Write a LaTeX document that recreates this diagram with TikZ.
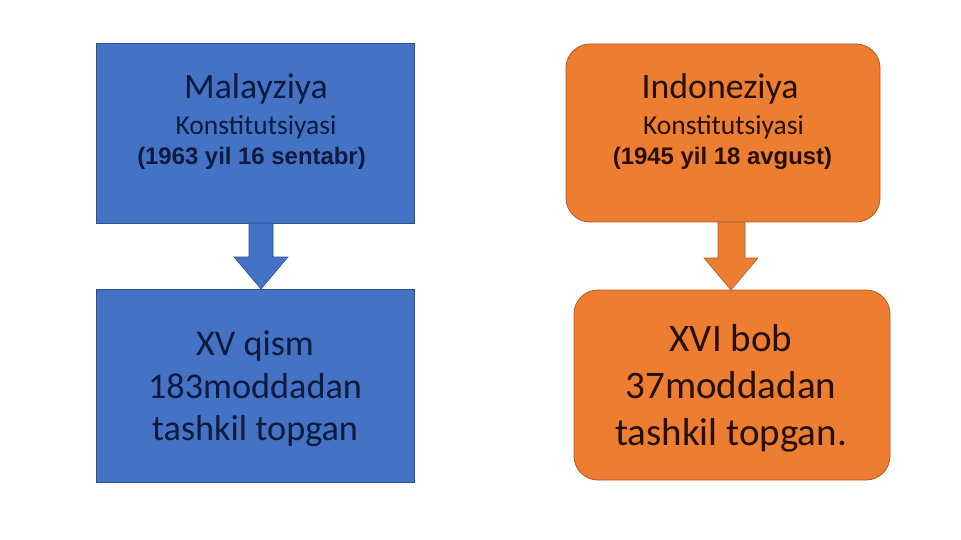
\documentclass[tikz,border=0pt]{standalone}
\usepackage{fontspec}
\setmainfont{Carlito}
\newfontfamily\arialb{Liberation Sans}
\usetikzlibrary{calc}
\definecolor{bfill}{HTML}{4472C4}
\definecolor{bline}{HTML}{2F528F}
\definecolor{ofill}{HTML}{ED7D31}
\definecolor{oline}{HTML}{AE5A21}
\definecolor{btext}{HTML}{0E1A3E}
\definecolor{otext}{HTML}{241006}
\tikzset{
  bbox/.style={draw=bline, fill=bfill, line width=0.8pt, inner sep=0pt},
  obox/.style={draw=oline, fill=ofill, line width=0.8pt, inner sep=0pt, rounded corners=24pt},
  barrow/.style={draw=bline, fill=bfill, line width=0.6pt},
  oarrow/.style={draw=oline, fill=ofill, line width=0.6pt},
  ttl/.style={font=\fontsize{35.8}{38}\selectfont},
  sub/.style={font=\fontsize{27.5}{30}\selectfont},
  dat/.style={font=\arialb\bfseries\fontsize{23.9}{26}\selectfont},
  bigb/.style={align=center, font=\fontsize{36.2}{42.5}\selectfont},
  bigo/.style={align=center, font=\fontsize{39}{47}\selectfont},
}
\begin{document}
\begin{tikzpicture}[x=1pt,y=-1pt]
\useasboundingbox (0,0) rectangle (961,540);
\fill[white] (0,0) rectangle (961,540);
% blue column
\draw[bbox] (96,43) rectangle (414,223);
\draw[bbox] (96,289) rectangle (414,482);
\coordinate (b2n) at (261,289);
\node[ttl, text=btext] (bt1) at (256,89) {Malayziya};
\node[sub, text=btext] (bt2) at (256,127) {Konstitutsiyasi};
\node[dat, text=btext] (bt3) at (251.5,158) {(1963 yil 16 sentabr)};
\node[bigb, text=btext] (bb) at (255,389) {XV qism\\183moddadan\\tashkil topgan};
\draw[barrow] (249,223) -- (273,223) -- (273,257) -- (288,257) -- (b2n) -- (234,257) -- (249,257) -- cycle;
% orange column
\draw[obox] (566,44) rectangle (880,222);
\draw[obox] (574,290) rectangle (890,480);
\coordinate (o2n) at (731,290);
\node[ttl, text=otext] (ot1) at (720,89) {Indoneziya};
\node[sub, text=otext] (ot2) at (723.5,127) {Konstitutsiyasi};
\node[dat, text=otext] (ot3) at (722.5,158) {(1945 yil 18 avgust)};
\node[bigo, text=otext] (ob) at (731,388) {XVI bob\\37moddadan\\tashkil topgan.};
\draw[oarrow] (718,222) -- (745,222) -- (745,258) -- (758,258) -- (o2n) -- (704,258) -- (718,258) -- cycle;
\end{tikzpicture}
\end{document}
